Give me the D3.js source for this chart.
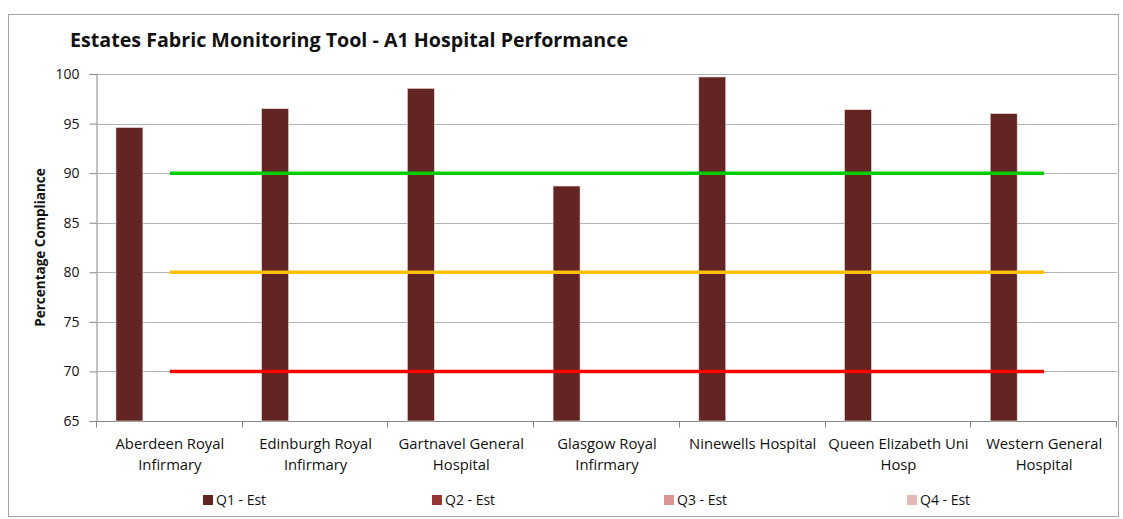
<!DOCTYPE html>
<html>
<head>
<meta charset="utf-8">
<script src="https://cdn.jsdelivr.net/npm/d3@7"></script>
<style>
  body { margin: 0; background: #fff; }
  svg { display: block; font-family: "Open Sans", "Liberation Sans", sans-serif; }
</style>
</head>
<body>
<svg width="1123" height="519"></svg>
<script>
// Data
var hospitals = [
  ["Aberdeen Royal", "Infirmary"],
  ["Edinburgh Royal", "Infirmary"],
  ["Gartnavel General", "Hospital"],
  ["Glasgow Royal", "Infirmary"],
  ["Ninewells Hospital"],
  ["Queen Elizabeth Uni", "Hosp"],
  ["Western General", "Hospital"]
];
var seriesNames = ["Q1 - Est", "Q2 - Est", "Q3 - Est", "Q4 - Est"];
var seriesColors = ["#632523", "#953735", "#d99694", "#e6b9b8"];
var q1 = [94.6, 96.5, 98.55, 88.7, 99.7, 96.4, 96.0];
var q2 = [null, null, null, null, null, null, null];
var q3 = [null, null, null, null, null, null, null];
var q4 = [null, null, null, null, null, null, null];
var targetGreen = [90, 90, 90, 90, 90, 90, 90];
var targetAmber = [80, 80, 80, 80, 80, 80, 80];
var targetRed = [70, 70, 70, 70, 70, 70, 70];
var yTicks = [65, 70, 75, 80, 85, 90, 95, 100];

var svg = d3.select("svg"),
    width = 1123,
    height = 519;

var plot = {left: 97, right: 1117, top: 74, bottom: 421};

// chart frame
svg.append("rect")
    .attr("x", 8.5).attr("y", 14.5)
    .attr("width", 1110).attr("height", 502)
    .attr("fill", "#fff")
    .attr("stroke", "#a6a6a6");

var keys = hospitals.map(function(d) { return d.join(" "); });

var x0 = d3.scaleBand()
    .domain(keys)
    .range([plot.left, plot.right]);

var bw = x0.bandwidth();
var x1 = d3.scaleBand()
    .domain(seriesNames)
    .range([bw * 0.13, bw * 0.87]);

var y = d3.scaleLinear()
    .domain([65, 100])
    .range([plot.bottom, plot.top]);

// gridlines
svg.append("g")
    .selectAll("line")
    .data(yTicks.slice(1))
    .enter().append("line")
    .attr("x1", plot.left).attr("x2", plot.right)
    .attr("y1", function(d) { return Math.round(y(d)) + 0.5; })
    .attr("y2", function(d) { return Math.round(y(d)) + 0.5; })
    .attr("stroke", "#b3b3b3")
    .attr("stroke-width", 1.2);

// y axis
var yAxis = svg.append("g")
    .attr("transform", "translate(" + (plot.left - 0.5) + ",0)")
    .call(d3.axisLeft(y).tickValues(yTicks).tickSize(7).tickPadding(10));
yAxis.select(".domain").attr("stroke", "#868686");
yAxis.selectAll(".tick line").attr("stroke", "#868686");
yAxis.selectAll("text")
    .attr("fill", "#111")
    .style("font-size", "14px")
    .style("font-family", "'Open Sans', sans-serif");

// x axis
var xAxis = svg.append("g")
    .attr("transform", "translate(0," + (plot.bottom + 0.5) + ")");
xAxis.append("line")
    .attr("x1", plot.left).attr("x2", plot.right)
    .attr("stroke", "#868686");
xAxis.selectAll(".xtick")
    .data(keys.concat(["end"]))
    .enter().append("line")
    .attr("class", "xtick")
    .attr("x1", function(d, i) { return Math.round(i < keys.length ? x0(d) : plot.right) - 0.5; })
    .attr("x2", function(d, i) { return Math.round(i < keys.length ? x0(d) : plot.right) - 0.5; })
    .attr("y1", 0).attr("y2", 6)
    .attr("stroke", "#868686");

var catLabels = xAxis.selectAll(".cat")
    .data(hospitals)
    .enter().append("text")
    .attr("class", "cat")
    .attr("text-anchor", "middle")
    .attr("fill", "#111")
    .style("font-size", "14.8px")
    .attr("transform", function(d, i) { return "translate(" + (x0(keys[i]) + bw / 2) + ",0)"; });
catLabels.selectAll("tspan")
    .data(function(d) { return d; })
    .enter().append("tspan")
    .attr("x", 0)
    .attr("y", function(d, i) { return 27 + i * 21.5; })
    .text(function(d) { return d; });

// bars
var allSeries = [q1, q2, q3, q4];
var groups = svg.append("g")
    .selectAll("g")
    .data(keys)
    .enter().append("g")
    .attr("transform", function(d) { return "translate(" + x0(d) + ",0)"; });

groups.selectAll("rect")
    .data(function(d, i) {
      return seriesNames.map(function(s, j) { return {s: s, j: j, v: allSeries[j][i]}; })
        .filter(function(e) { return e.v != null; });
    })
    .enter().append("rect")
    .attr("x", function(d) { return x1(d.s); })
    .attr("width", x1.bandwidth())
    .attr("y", function(d) { return y(d.v); })
    .attr("height", function(d) { return y(65) - y(d.v); })
    .attr("fill", function(d) { return seriesColors[d.j]; })
    .attr("stroke", "#f2dcdb")
    .attr("stroke-width", 0.6);

// target lines
var line = d3.line()
    .x(function(d, i) { return x0(keys[i]) + bw / 2; })
    .y(function(d) { return y(d); });

[[targetGreen, "#00cc00"], [targetAmber, "#ffc000"], [targetRed, "#ff0000"]].forEach(function(t) {
  svg.append("path")
      .datum(t[0])
      .attr("d", line)
      .attr("fill", "none")
      .attr("stroke", t[1])
      .attr("stroke-width", 3.5);
});

// title
svg.append("text")
    .attr("x", 70).attr("y", 47)
    .attr("fill", "#111")
    .style("font-weight", "bold")
    .style("font-size", "19px")
    .attr("textLength", 558)
    .attr("lengthAdjust", "spacingAndGlyphs")
    .text("Estates Fabric Monitoring Tool - A1 Hospital Performance");

// y axis title
svg.append("text")
    .attr("transform", "translate(45," + ((plot.top + plot.bottom) / 2) + ") rotate(-90)")
    .attr("text-anchor", "middle")
    .attr("fill", "#111")
    .style("font-weight", "bold")
    .style("font-size", "13.5px")
    .text("Percentage Compliance");

// legend
var legendX = [203, 432, 664, 907];
var legend = svg.append("g")
    .selectAll("g")
    .data(seriesNames)
    .enter().append("g")
    .attr("transform", function(d, i) { return "translate(" + legendX[i] + ",500)"; });

legend.append("rect")
    .attr("x", 0).attr("y", -5)
    .attr("width", 10).attr("height", 10)
    .attr("fill", function(d, i) { return seriesColors[i]; });

legend.append("text")
    .attr("x", 13).attr("y", 5)
    .attr("fill", "#111")
    .style("font-size", "14px")
    .text(function(d) { return d; });
</script>
</body>
</html>
